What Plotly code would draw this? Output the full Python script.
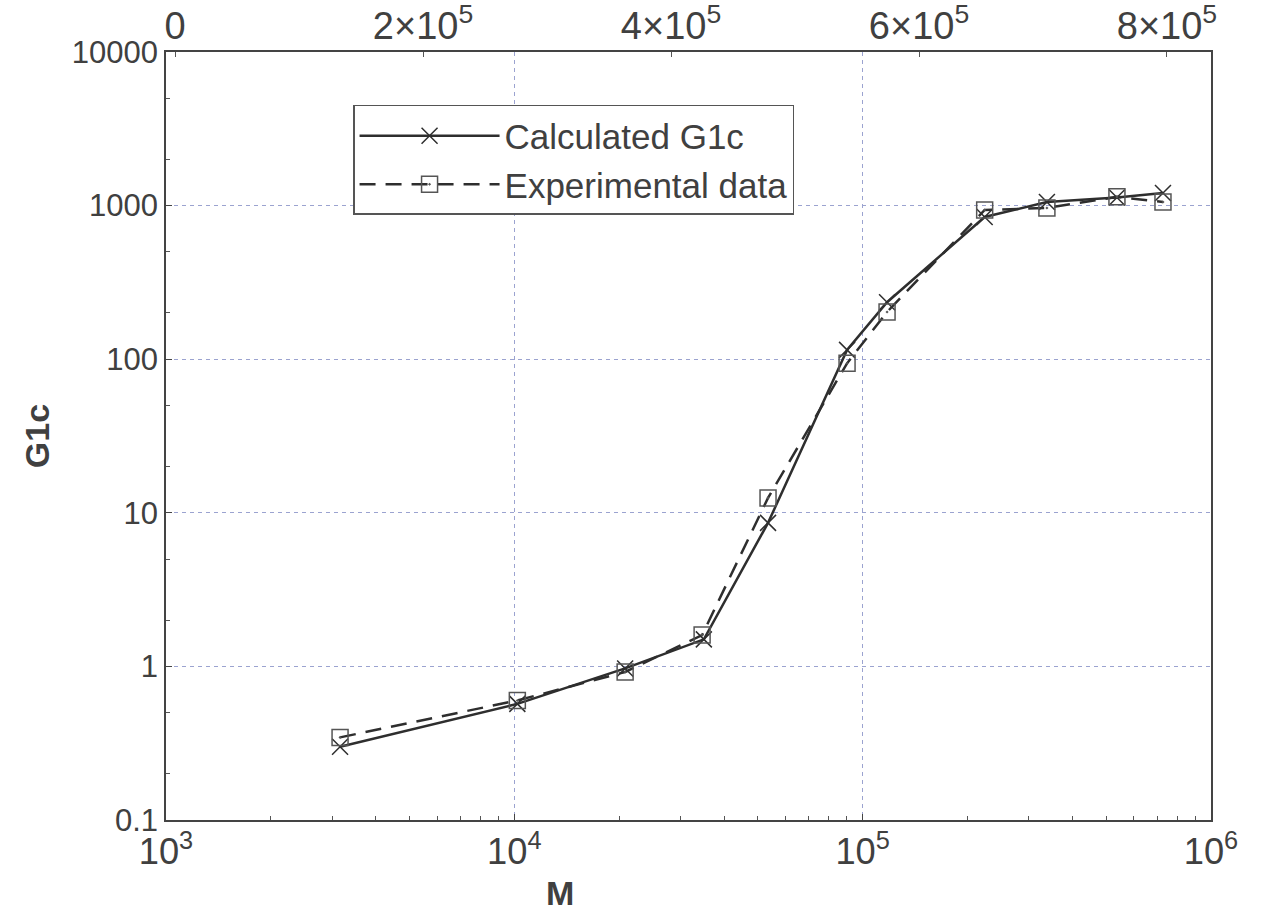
import plotly.graph_objects as go

# Data (log-log)
calc_M = [3160, 10200, 20800, 35000, 53500, 90200, 117500, 224000, 338000, 537000, 728000]
calc_G = [0.30, 0.57, 0.97, 1.50, 8.6, 115, 235, 843, 1055, 1130, 1208]

exp_M = [3160, 10200, 20800, 34600, 53500, 90200, 117500, 224000, 338000, 537000, 728000]
exp_G = [0.345, 0.60, 0.92, 1.60, 12.5, 94, 203, 936, 965, 1140, 1055]

y_tickvals = [0.1, 1, 10, 100, 1000, 10000]
y_ticktext = ["0.1", "1", "10", "100", "1000", "10000"]
top_tickvals = [0, 200000, 400000, 600000, 800000]
top_range = [-7300, 835500]

FONT = "Liberation Sans, Arial, Helvetica, sans-serif"
TXT = "#404040"
LINE = "#2e2e2e"
GRID = "#9ba3d0"

fig = go.Figure()
fig.add_trace(go.Scatter(
    x=calc_M, y=calc_G, mode="lines+markers", name="Calculated G1c",
    line=dict(color=LINE, width=2.5),
    marker=dict(symbol="x-thin-open", size=16, line=dict(color=LINE, width=1.5)),
))
fig.add_trace(go.Scatter(
    x=exp_M, y=exp_G, mode="lines+markers", name="Experimental data",
    line=dict(color=LINE, width=2.5, dash="16px,10px"),
    marker=dict(symbol="square-open-dot", size=16, color="#555555", line=dict(color="#555555", width=1.5)),
))
# invisible trace so the top (linear) axis is drawn
fig.add_trace(go.Scatter(
    x=top_range, y=[1, 1], xaxis="x2", mode="lines",
    line=dict(color="rgba(0,0,0,0)"), showlegend=False, hoverinfo="skip",
))

fig.update_layout(
    width=1266, height=918,
    margin=dict(l=166, r=55, t=52, b=98),
    paper_bgcolor="white", plot_bgcolor="white",
    font=dict(family=FONT, size=31, color=TXT),
    showlegend=True,
    legend=dict(
        x=0.179, y=0.931, xanchor="left", yanchor="top",
        bgcolor="white", bordercolor="#555555", borderwidth=1.5,
        font=dict(size=35, color=TXT), tracegroupgap=0, itemwidth=140,
    ),
    xaxis=dict(
        type="log", range=[3, 6], dtick=1, exponentformat="power",
        showline=True, linecolor="#444444", linewidth=1.5, mirror=True,
        ticks="inside", ticklen=6, tickcolor="#444444",
        minor=dict(ticks="inside", ticklen=4, tickcolor="#555555", showgrid=False),
        showgrid=True, gridcolor=GRID, griddash="4px,4px", gridwidth=1,
        zeroline=False, automargin=False,
        tickfont=dict(size=29, color=TXT),
    ),
    xaxis2=dict(
        overlaying="x", side="top", anchor="y",
        range=top_range, tickvals=top_tickvals,
        exponentformat="power", showexponent="all",
        showline=False, showgrid=False, zeroline=False,
        ticks="inside", ticklen=5, tickcolor="#555555",
        ticklabelstandoff=4, automargin=False,
        tickfont=dict(size=38, color=TXT),
    ),
    yaxis=dict(
        type="log", range=[-1, 4], tickvals=y_tickvals, ticktext=y_ticktext,
        showline=True, linecolor="#444444", linewidth=1.5, mirror=True,
        ticks="inside", ticklen=6, tickcolor="#444444",
        minor=dict(ticks="inside", ticklen=4, tickcolor="#555555", showgrid=False),
        showgrid=True, gridcolor=GRID, griddash="4px,4px", gridwidth=1,
        zeroline=False, automargin=False,
        title=dict(text="<b>G1c</b>", font=dict(size=34, color=TXT), standoff=12),
        tickfont=dict(size=31, color=TXT),
    ),
    annotations=[dict(
        text="<b>M</b>", xref="paper", yref="paper", x=0.377, y=-0.095,
        xanchor="center", yanchor="middle", showarrow=False,
        font=dict(size=34, color=TXT),
    )],
)

fig.write_html("out.html")
